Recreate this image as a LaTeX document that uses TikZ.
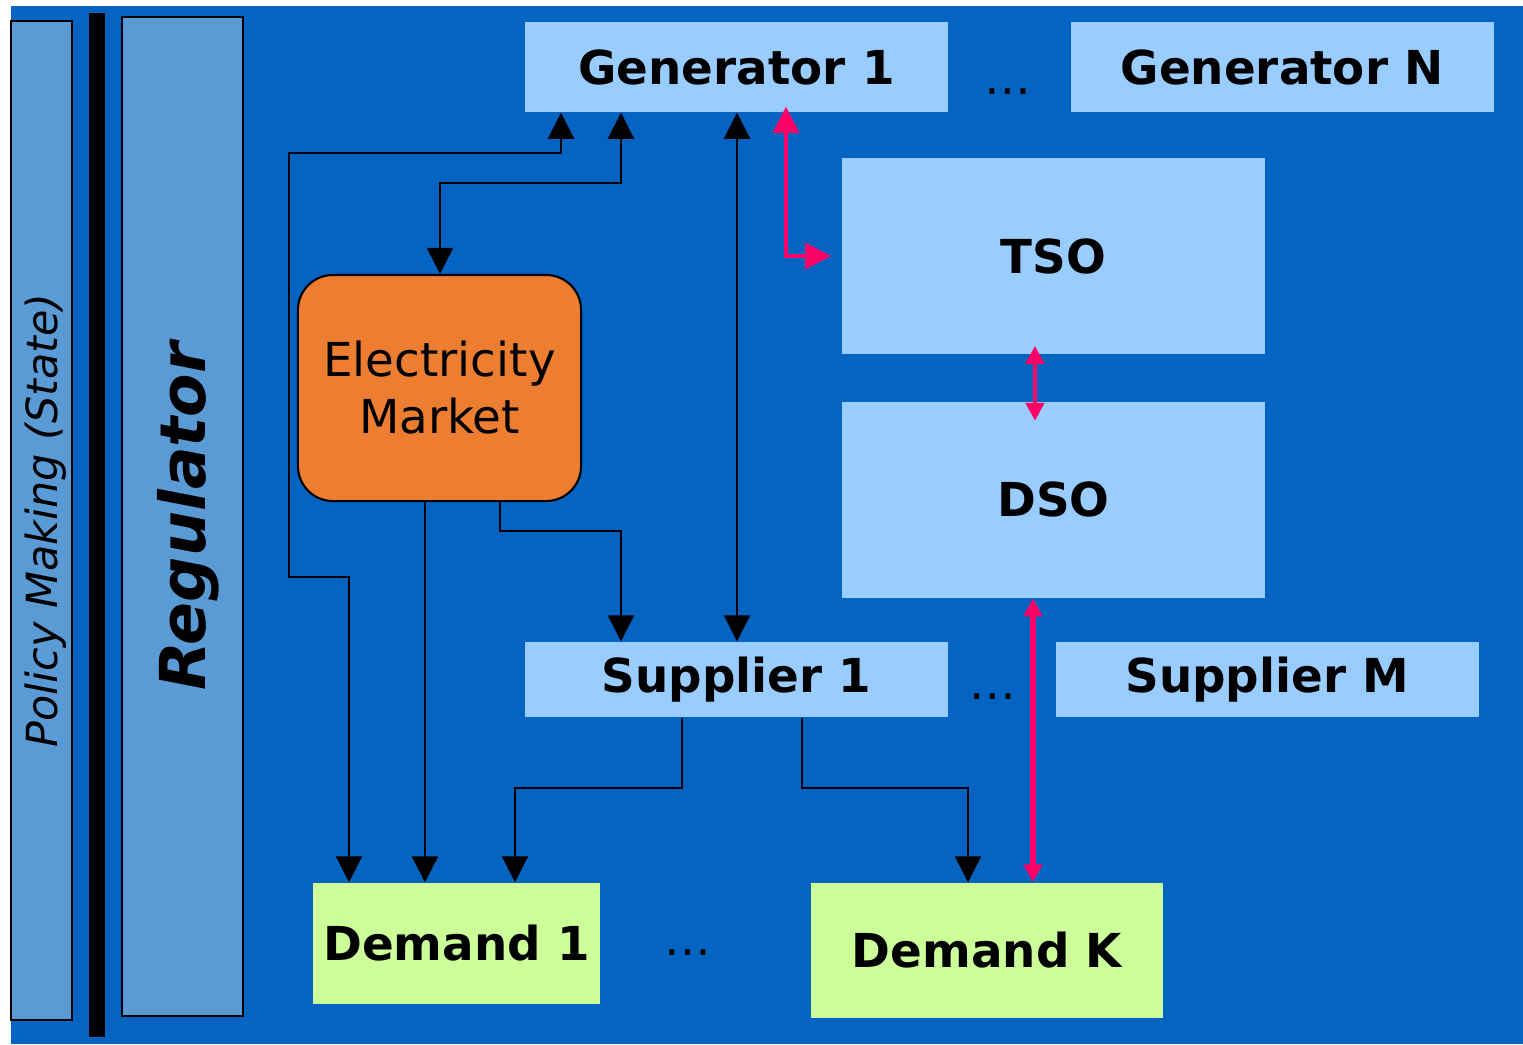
\documentclass[tikz,border=0pt]{standalone}
\usepackage{fontspec}
\setmainfont{DejaVu Sans}
\usepackage{tikz}
\usetikzlibrary{arrows.meta,positioning,calc}
\definecolor{bgblue}{HTML}{0563C1}
\definecolor{lightblue}{HTML}{99CCFF}
\definecolor{sideblue}{HTML}{5B9BD5}
\definecolor{mktorange}{HTML}{ED7D31}
\definecolor{demgreen}{HTML}{CCFF99}
\definecolor{flowpink}{HTML}{FF0066}
\tikzset{
  lbox/.style={rectangle,fill=lightblue,inner sep=0pt,font=\fontsize{13.3}{16}\selectfont\bfseries},
  dbox/.style={rectangle,fill=demgreen,inner sep=0pt,font=\fontsize{13.3}{16}\selectfont\bfseries},
  sbox/.style={rectangle,draw=black,line width=0.6pt,fill=sideblue,inner sep=0pt,rotate=90},
  mbox/.style={rectangle,draw=black,line width=0.6pt,fill=mktorange,rounded corners=0.35cm,inner sep=0pt,align=center,font=\fontsize{13.3}{16.2}\selectfont},
  dots/.style={anchor=base,inner sep=0pt,font=\fontsize{13.3}{16}\selectfont},
  ae/.style={-{Triangle[length=0.26cm,width=0.26cm]},line width=0.6pt},
  dae/.style={{Triangle[length=0.26cm,width=0.26cm]}-{Triangle[length=0.26cm,width=0.26cm]},line width=0.6pt},
  pe/.style={{Triangle[length=0.26cm,width=0.26cm]}-{Triangle[length=0.26cm,width=0.26cm]},line width=1.05pt,flowpink},
  spe/.style={{Triangle[length=0.18cm,width=0.18cm]}-{Triangle[length=0.18cm,width=0.18cm]},flowpink}
}
\begin{document}
\begin{tikzpicture}[x=0.01cm,y=-0.01cm]
\useasboundingbox (0,0) rectangle (1523,1044);
\fill[bgblue] (11,6) rectangle (1523,1044);
% side bars
\node[sbox, minimum width=9.99cm, minimum height=0.61cm, font=\fontsize{12.2}{14}\selectfont\itshape] (pol) at (41.5,520.5) {\raisebox{-0.04cm}[\height][\depth]{Policy Making (State)}};
\fill[black] (89,13) rectangle (105,1037);
\node[sbox, minimum width=9.99cm, minimum height=1.21cm, font=\fontsize{18}{20}\selectfont\bfseries\itshape] (reg) at (182.5,516.5) {\raisebox{-0.06cm}[\height][\depth]{Regulator}};
% boxes
\node[lbox, minimum width=4.23cm, minimum height=0.90cm] (gen1) at (736.5,67) {Generator 1};
\node[lbox, minimum width=4.23cm, minimum height=0.90cm, right=1.21cm of gen1] (genN) {Generator N};
\node[lbox, minimum width=4.23cm, minimum height=1.96cm] (tso) at (1053.5,256) {TSO};
\node[lbox, minimum width=4.23cm, minimum height=1.96cm, below=0.46cm of tso] (dso) {DSO};
\node[mbox, minimum width=2.83cm, minimum height=2.26cm] (mkt) at (439.5,388) {Electricity\\Market};
\node[lbox, minimum width=4.23cm, minimum height=0.75cm] (sup1) at (736.5,679.5) {Supplier 1};
\node[lbox, minimum width=4.23cm, minimum height=0.75cm, right=1.06cm of sup1] (supM) {Supplier M};
\node[dbox, minimum width=2.87cm, minimum height=1.21cm] (dem1) at (456.5,943.5) {Demand 1};
\node[dbox, minimum width=3.52cm, minimum height=1.35cm] (demK) at (987,950.5) {Demand K};
\node[dots] (dg) at (1008,94) {\ldots};
\node[dots] (ds) at (993,699) {\ldots};
\node[dots] (dd) at (688,955) {\ldots};
% flows
\draw[dae] (gen1.south -| 561,0) -- (561,153) -| (289,577) -| (dem1.north -| 349,0);
\draw[dae] (mkt.north -| 440,0) |- (621,183) -- (gen1.south -| 621,0);
\draw[ae] (mkt.south -| 425,0) -- (dem1.north -| 425,0);
\draw[ae] (mkt.south -| 500,0) |- (621,531) -- (sup1.north -| 621,0);
\draw[dae] (gen1.south -| 737,0) -- (sup1.north -| 737,0);
\draw[ae] (sup1.south -| 682,0) |- (515,788) -- (dem1.north -| 515,0);
\draw[ae] (sup1.south -| 802,0) |- (968,788) -- (demK.north -| 968,0);
\draw[pe, shorten <=-0.06cm] (gen1.south -| 786,0) |- ([xshift=-0.1cm]tso.west);
\draw[spe, line width=1.4pt, shorten <=-0.09cm, shorten >=-0.2cm] (tso.south -| 1035,0) -- (dso.north -| 1035,0);
\draw[spe, line width=1.7pt] (dso.south -| 1033,0) -- (demK.north -| 1033,0);
\end{tikzpicture}
\end{document}
